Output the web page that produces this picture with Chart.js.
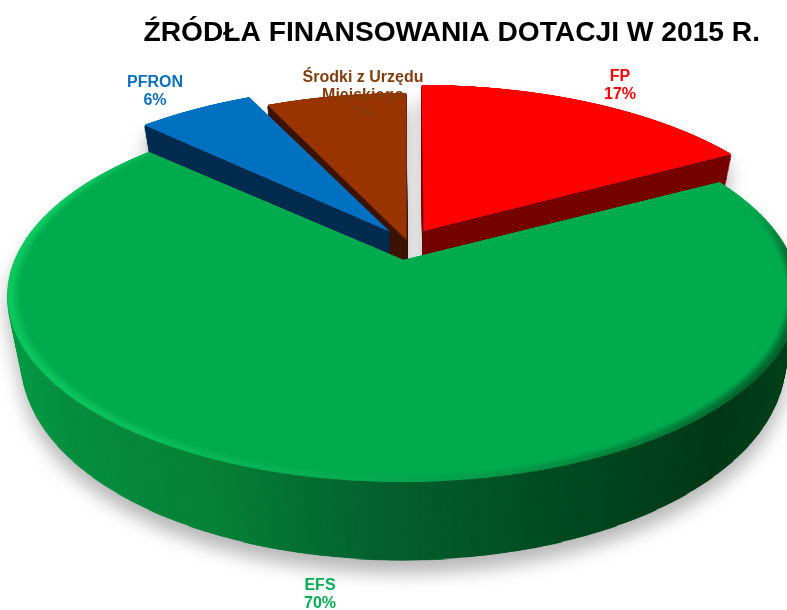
<!DOCTYPE html>
<html lang="pl">
<head>
    <meta charset="UTF-8">
    <title>Źródła finansowania dotacji</title>
</head>
<body style="margin: 0 0 0 0; background: #fff;">
    <canvas id="myChart" width="787" height="610"></canvas>

    <script src="https://cdn.jsdelivr.net/npm/chart.js@4/dist/chart.umd.min.js"></script>
    <script>
        const categories = ['FP', 'EFS', 'PFRON', 'Środki z Urzędu Miejskiego'];
        const values = [17, 70, 6, 7];
        const titleText = 'ŹRÓDŁA FINANSOWANIA DOTACJI W 2015 R.';

        const topColors = ['#ff0000', '#00ab4e', '#0070c0', '#993300'];
        const wallColors = ['#760000', '#0a9e4a', '#002d50', '#3f1500'];
        const textColors = ['#ff0000', '#00b050', '#0b70c0', '#843c0c'];

        // where the labels sit, one text line is 18px
        const labelPos = [[620, 77], [320, 586], [155, 83], [363, 78]];
        const labelLines = [['FP'], ['EFS'], ['PFRON'], ['Środki z Urzędu', 'Miejskiego']];

        // perspective of the disc
        const view = { cx: 408, cy: 243, rx: 388, ry: 177, k: 0.187, depth: 62, ss: 2 };
        // slices do not come out the same size in the projection
        const sliceSize = [1.075, 0.985, 1.04, 1];

        function paintArc(ctx, arc, fill, R, i) {
            const saved = arc.options;
            const savedR = arc.outerRadius;
            arc.options = { ...saved, backgroundColor: fill };
            // chart.js grows the arc by its offset, take that back out
            arc.outerRadius = R * sliceSize[i] - (saved.offset || 0) / 4;
            arc.draw(ctx);
            arc.options = saved;
            arc.outerRadius = savedR;
        }

        // draws the flat pie big on a spare canvas, passes = [[fill per arc], ...]
        function flatPie(arcs, makePasses) {
            const R = arcs[0].outerRadius;
            const half = (R * 1.2) * view.ss;
            const c = document.createElement('canvas');
            c.width = c.height = Math.ceil(half * 2);
            const ctx = c.getContext('2d');
            ctx.scale(view.ss, view.ss);
            ctx.translate(R * 1.2 - arcs[0].x, R * 1.2 - arcs[0].y);
            makePasses(ctx, arcs[0].x, arcs[0].y, R).forEach(fills => {
                arcs.forEach((arc, i) => { if (fills[i]) paintArc(ctx, arc, fills[i], R, i); });
            });
            return { canvas: c, half: half, rs: R * view.ss };
        }

        // row by row projective copy of the flat pie
        function warp(ctx, src, h, squeeze, rowH) {
            const { cx, cy, rx, ry, k } = view;
            for (let y = -175; y < 285; y++) {
                const y0 = y / (ry + k * y);
                const y1 = (y + 1) / (ry + k * (y + 1));
                const d = 1 - k * (y + 0.5) / (ry + k * (y + 0.5));
                const w = src.half / src.rs * rx / d * squeeze;
                ctx.drawImage(src.canvas,
                    0, src.half + y0 * src.rs, src.canvas.width, (y1 - y0) * src.rs,
                    cx - w, cy + y + h / d, w * 2, rowH);
            }
        }

        const pie3d = {
            id: 'pie3d',
            beforeDatasetsDraw(chart) {
                const arcs = chart.getDatasetMeta(0).data;
                const main = chart.ctx;

                const wallSrc = flatPie(arcs, (ctx, x, y, R) => {
                    const g = ctx.createLinearGradient(x - R, 0, x + R, 0);
                    g.addColorStop(0, '#0aa24d');
                    g.addColorStop(0.12, '#088f40');
                    g.addColorStop(0.3, '#078238');
                    g.addColorStop(0.47, '#05622f');
                    g.addColorStop(0.66, '#024c22');
                    g.addColorStop(0.85, '#013a18');
                    g.addColorStop(1, '#03461f');
                    return [[wallColors[0], g, wallColors[2], wallColors[3]]];
                });
                const topSrc = flatPie(arcs, (ctx, x, y, R) => {
                    const rim = ctx.createConicGradient(Math.PI / 2, x, y);
                    rim.addColorStop(0, '#06a84f');
                    rim.addColorStop(0.12, '#0cc25c');
                    rim.addColorStop(0.3, '#0ccb60');
                    rim.addColorStop(0.4, '#00ab4e');
                    rim.addColorStop(0.7, '#00ab4e');
                    rim.addColorStop(0.76, '#005c2a');
                    rim.addColorStop(0.86, '#006a30');
                    rim.addColorStop(1, '#06a84f');
                    const face = ctx.createRadialGradient(x, y, 0, x, y, R * sliceSize[1]);
                    face.addColorStop(0, topColors[1]);
                    face.addColorStop(0.968, topColors[1]);
                    face.addColorStop(0.99, 'rgba(0,171,78,0)');
                    face.addColorStop(1, 'rgba(0,171,78,0)');
                    return [
                        [topColors[0], rim, topColors[2], topColors[3]],
                        [null, face, null, null]
                    ];
                });

                // side walls, deepest layer first
                const layer = document.createElement('canvas');
                layer.width = chart.width;
                layer.height = chart.height;
                const lctx = layer.getContext('2d');
                for (let h = view.depth; h > 0; h--) {
                    warp(lctx, wallSrc, h, 1 - 0.035 * h / view.depth, 2);
                }

                main.save();
                main.shadowColor = 'rgba(0,0,0,0.28)';
                main.shadowBlur = 18;
                main.shadowOffsetY = 13;
                main.drawImage(layer, 0, 0);
                main.restore();

                warp(main, topSrc, 0, 1, 1);
                return false;
            },
            afterDraw(chart) {
                const ctx = chart.ctx;
                ctx.save();
                ctx.font = 'bold 16px "Liberation Sans"';
                ctx.textAlign = 'center';
                ctx.textBaseline = 'middle';
                categories.forEach((name, i) => {
                    const lines = labelLines[i].concat(values[i] + '%');
                    ctx.fillStyle = textColors[i];
                    lines.forEach((line, n) => {
                        ctx.fillText(line, labelPos[i][0], labelPos[i][1] + n * 18);
                    });
                });
                ctx.restore();
            }
        };

        new Chart(document.getElementById('myChart'), {
            type: 'pie',
            plugins: [pie3d],
            data: {
                labels: categories,
                datasets: [{
                    data: values,
                    backgroundColor: topColors,
                    borderWidth: 0,
                    offset: [76, 90, 76, 15]
                }]
            },
            options: {
                responsive: false,
                animation: false,
                radius: 240,
                layout: { padding: { right: 27, top: 16 } },
                plugins: {
                    legend: { display: false },
                    tooltip: { enabled: false },
                    title: {
                        display: true,
                        text: titleText,
                        align: 'end',
                        color: '#000',
                        font: { family: '"Liberation Sans"', size: 28.2, weight: 'bold' },
                        padding: { top: 0, bottom: 0 }
                    }
                }
            }
        });
    </script>
</body>
</html>
